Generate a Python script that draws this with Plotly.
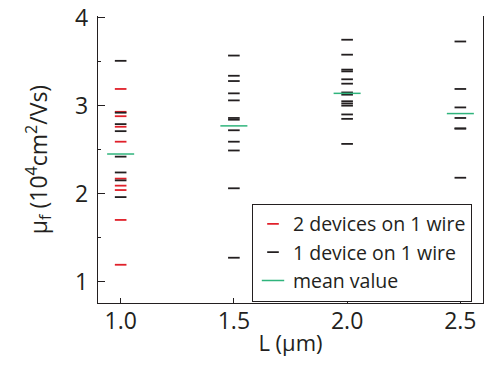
import plotly.graph_objects as go

# Data
red_L = [1.0] * 10
red_mu = [3.19, 2.93, 2.88, 2.76, 2.59, 2.17, 2.09, 2.04, 1.70, 1.19]

black_L = [1.0] * 8 + [1.5] * 12 + [2.0] * 14 + [2.5] * 7
black_mu = (
    [3.51, 2.92, 2.79, 2.71, 2.42, 2.24, 2.15, 1.96]
    + [3.57, 3.34, 3.28, 3.14, 3.06, 2.86, 2.84, 2.72, 2.59, 2.49, 2.06, 1.27]
    + [3.75, 3.58, 3.41, 3.39, 3.30, 3.25, 3.15, 3.125, 3.05, 3.025, 3.00, 2.90, 2.85, 2.565]
    + [3.73, 3.19, 2.98, 2.86, 2.74, 2.74, 2.18]
)

mean_L = [1.0, 1.5, 2.0, 2.5]
mean_mu = [2.45, 2.77, 3.14, 2.91]

x_tickvals = [1.0, 1.5, 2.0, 2.5]
x_ticktext = ["1.0", "1.5", "2.0", "2.5"]
y_tickvals = [1, 2, 3, 4]

RED = "#e0202a"
BLACK = "#231f20"
GREEN = "#2fb47c"
FONT = "Open Sans"

fig = go.Figure()
fig.add_trace(go.Scatter(
    x=red_L, y=red_mu, mode="markers", name="2 devices on 1 wire",
    marker=dict(symbol="line-ew", size=8.3, color=RED, line=dict(color=RED, width=1.8)),
))
fig.add_trace(go.Scatter(
    x=black_L, y=black_mu, mode="markers", name="1 device on 1 wire",
    marker=dict(symbol="line-ew", size=8.3, color=BLACK, line=dict(color=BLACK, width=1.8)),
))
fig.add_trace(go.Scatter(
    x=mean_L, y=mean_mu, mode="markers", name="mean value",
    marker=dict(symbol="line-ew", size=19.3, color=GREEN, line=dict(color=GREEN, width=1.5)),
))

# the page body has an 8px margin, so the figure is 490x365 to fill 498x373
fig.update_layout(
    width=490, height=365,
    margin=dict(l=90, r=15, t=8, b=70, autoexpand=False),
    paper_bgcolor="white", plot_bgcolor="white",
    font=dict(family=FONT, color=BLACK, size=23),
    showlegend=True,
    legend=dict(
        x=0.40, y=0.346, xanchor="left", yanchor="top",
        bgcolor="white", bordercolor=BLACK, borderwidth=1,
        font=dict(family=FONT, size=19.5, color=BLACK),
        tracegroupgap=0, itemwidth=30,
    ),
    xaxis=dict(
        range=[0.9, 2.6], tickvals=x_tickvals, ticktext=x_ticktext,
        ticks="inside", ticklen=5, tickwidth=1, tickcolor=BLACK,
        showline=True, linecolor=BLACK, linewidth=1.3, mirror=False,
        showgrid=False, zeroline=False, automargin=False,
        ticklabelstandoff=-3, ticklabeloverflow="allow",
        tickfont=dict(size=23),
        title=dict(text="L (μm)", font=dict(size=22), standoff=0),
    ),
    yaxis=dict(
        range=[0.755, 4.02], tickvals=y_tickvals,
        ticks="inside", ticklen=7, tickwidth=1, tickcolor=BLACK,
        minor=dict(tickvals=[1.5, 2.5, 3.5], ticks="inside", ticklen=3, tickcolor=BLACK, tickwidth=1),
        showline=True, linecolor=BLACK, linewidth=1.3, mirror=True,
        showgrid=False, zeroline=False, automargin=False,
        ticklabelstandoff=4, ticklabeloverflow="allow",
        tickfont=dict(size=23),
        title=dict(text="μ<sub>f</sub> (10<sup>4</sup>cm<sup>2</sup>/Vs)", font=dict(size=23), standoff=21),
    ),
)

fig.write_html("out.html")
